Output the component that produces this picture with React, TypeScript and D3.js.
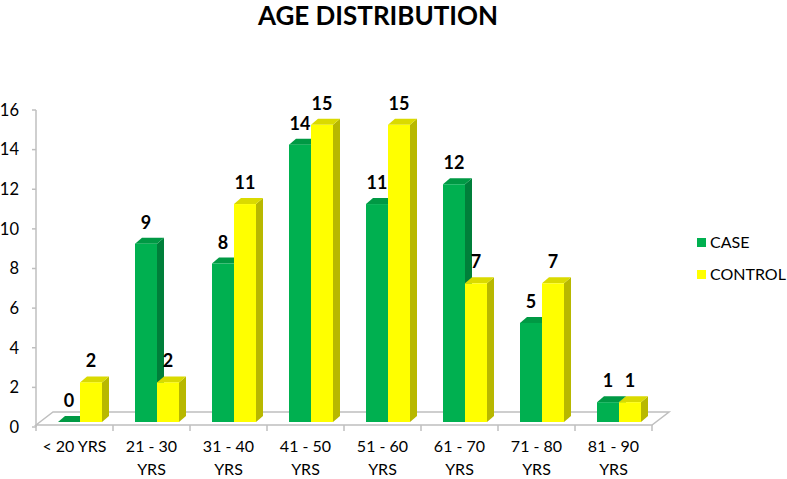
import React, { useEffect, useRef } from 'react';
import * as d3 from 'd3';

// Chart data
const categories = ['< 20 YRS', '21 - 30|YRS', '31 - 40|YRS', '41 - 50|YRS', '51 - 60|YRS', '61 - 70|YRS', '71 - 80|YRS', '81 - 90|YRS'];
const seriesNames = ['CASE', 'CONTROL'];
const caseValues = [0, 9, 8, 14, 11, 12, 5, 1];
const controlValues = [2, 2, 11, 15, 15, 7, 7, 1];
const yTicks = [0, 2, 4, 6, 8, 10, 12, 14, 16];

const colors = {
  CASE: { front: '#00B050', side: '#007F3A', top: '#009944' },
  CONTROL: { front: '#FFFF00', side: '#B8B800', top: '#DADA00' },
};

const FONT = 'Lato, "Open Sans", sans-serif';

const App = () => {
  const svgRef = useRef(null);

  useEffect(() => {
    const svg = d3.select(svgRef.current);
    svg.selectAll('*').remove();

    const left = 36;
    const right = 652;
    const depthX = 17;
    const depthY = 13;
    const floorFront = 425;

    // Title
    svg.append('text')
      .attr('x', 378)
      .attr('y', 25)
      .attr('text-anchor', 'middle')
      .style('font-family', FONT)
      .style('font-weight', 700)
      .style('font-size', '26px')
      .text('AGE DISTRIBUTION');

    // Scales
    const x0 = d3.scaleBand().domain(categories).range([left, right]);
    const x1 = d3.scaleBand().domain(seriesNames).range([22, 66]);
    const yAxisScale = d3.scaleLinear().domain([0, 16]).range([427, 110]);
    const yBar = d3.scaleLinear().domain([0, 16]).range([422, 105]);

    // Floor
    svg.append('path')
      .attr('d', `M${left},${floorFront} L${left + depthX},${floorFront - depthY} L${right + depthX},${floorFront - depthY} L${right},${floorFront} Z`)
      .attr('fill', 'white')
      .attr('stroke', '#BFBFBF')
      .attr('stroke-width', 1.5);

    // Y axis
    svg.append('line')
      .attr('x1', left).attr('x2', left)
      .attr('y1', yAxisScale(16)).attr('y2', yAxisScale(0))
      .attr('stroke', '#BFBFBF').attr('stroke-width', 1.5);

    const yt = svg.append('g');
    yTicks.forEach(t => {
      yt.append('line')
        .attr('x1', left - 4).attr('x2', left)
        .attr('y1', yAxisScale(t)).attr('y2', yAxisScale(t))
        .attr('stroke', '#BFBFBF').attr('stroke-width', 1.5);
      yt.append('text')
        .attr('x', 19)
        .attr('y', yAxisScale(t))
        .attr('dy', '0.35em')
        .attr('text-anchor', 'end')
        .style('font-family', FONT)
        .style('font-size', '16.5px')
        .text(t);
    });

    // X axis ticks
    const boundaries = categories.map(c => x0(c)).concat([right]);
    boundaries.forEach(bx => {
      svg.append('line')
        .attr('x1', bx).attr('x2', bx)
        .attr('y1', floorFront).attr('y2', floorFront + 6)
        .attr('stroke', '#BFBFBF').attr('stroke-width', 1.5);
    });

    // X labels
    categories.forEach(c => {
      const lines = c.split('|');
      const t = svg.append('text')
        .attr('text-anchor', 'middle')
        .style('font-family', FONT)
        .style('font-size', '16px');
      lines.forEach((ln, i) => {
        t.append('tspan')
          .attr('x', x0(c) + x0.bandwidth() / 2)
          .attr('y', 452 + i * 23)
          .text(ln);
      });
    });

    // Bars (3D)
    const bw = x1.bandwidth();
    const dx = 7;
    const dy = 6;
    const series = [
      { name: 'CASE', values: caseValues },
      { name: 'CONTROL', values: controlValues },
    ];

    categories.forEach((c, i) => {
      series.forEach(s => {
        const v = s.values[i];
        const col = colors[s.name];
        const bx = x0(c) + x1(s.name);
        const by = yBar(v);
        const base = yBar(0);
        const g = svg.append('g');
        // side face
        g.append('path')
          .attr('d', `M${bx + bw},${base} L${bx + bw + dx},${base - dy} L${bx + bw + dx},${by - dy} L${bx + bw},${by} Z`)
          .attr('fill', col.side);
        // top face
        g.append('path')
          .attr('d', `M${bx},${by} L${bx + dx},${by - dy} L${bx + bw + dx},${by - dy} L${bx + bw},${by} Z`)
          .attr('fill', col.top);
        // front face
        g.append('rect')
          .attr('x', bx)
          .attr('y', by)
          .attr('width', bw)
          .attr('height', base - by)
          .attr('fill', col.front);
      });
    });

    // Value labels
    categories.forEach((c, i) => {
      series.forEach(s => {
        const v = s.values[i];
        svg.append('text')
          .attr('x', x0(c) + x1(s.name) + bw / 2)
          .attr('y', yBar(v) - 15)
          .attr('text-anchor', 'middle')
          .style('font-family', FONT)
          .style('font-weight', 700)
          .style('font-size', '18px')
          .text(v);
      });
    });

    // Legend
    const legend = svg.append('g');
    series.forEach((s, i) => {
      const ly = 238 + i * 32;
      legend.append('rect')
        .attr('x', 697).attr('y', ly)
        .attr('width', 9).attr('height', 9)
        .attr('fill', colors[s.name].front);
      legend.append('text')
        .attr('x', 710)
        .attr('y', ly + 10)
        .style('font-family', FONT)
        .style('font-size', '16px')
        .text(s.name);
    });
  }, []);

  return (
    <svg
      ref={svgRef}
      width={787}
      height={479}
      style={{ position: 'absolute', left: 0, top: 0, background: 'white' }}
    />
  );
};

export default App;
